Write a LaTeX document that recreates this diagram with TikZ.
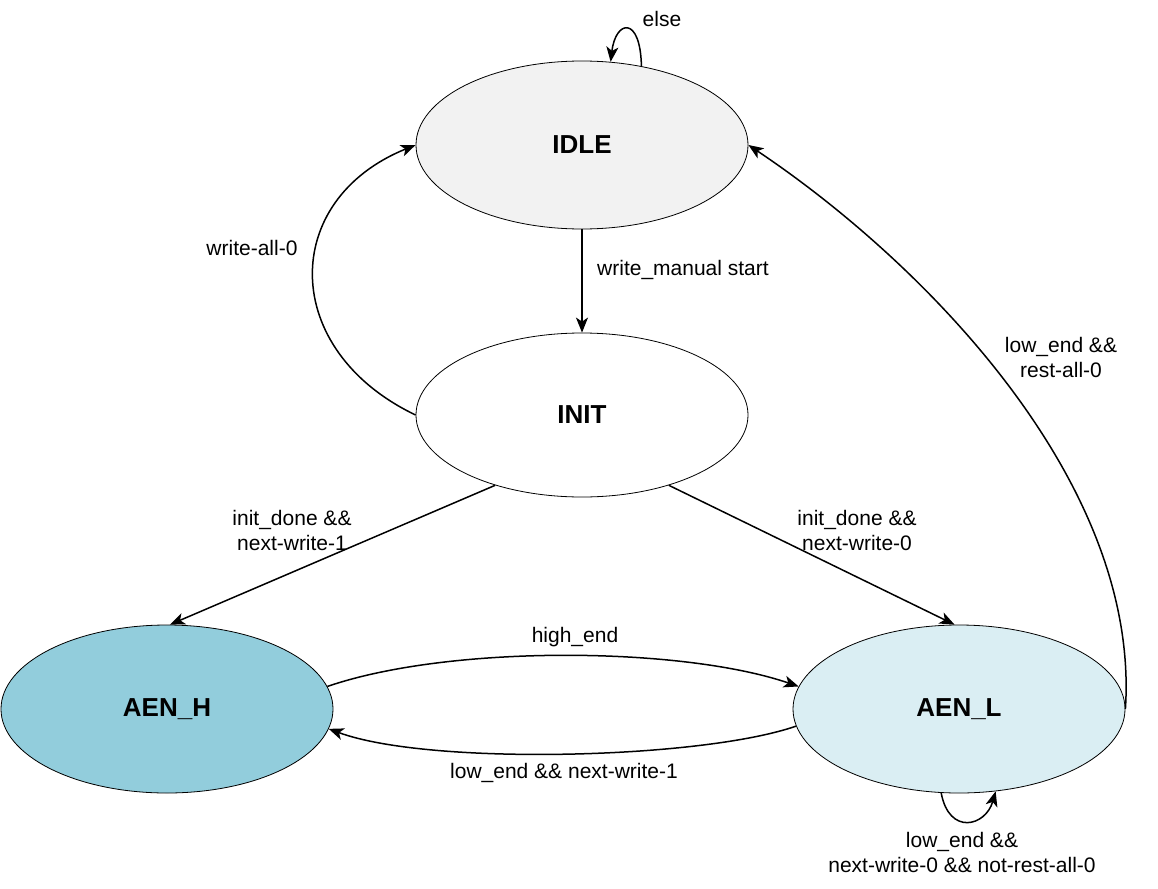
\documentclass[tikz,border=0pt]{standalone}
\usepackage{fontspec}
\setmainfont{Liberation Sans}
\usetikzlibrary{shapes.geometric,arrows.meta}
\definecolor{idlefill}{HTML}{F2F2F2}
\definecolor{aenhfill}{HTML}{92CDDC}
\definecolor{aenlfill}{HTML}{DAEEF3}
\begin{document}
\begin{tikzpicture}[x=1pt,y=-1pt,
  state/.style={ellipse,draw=black,line width=0.8pt,minimum width=332pt,minimum height=168pt,inner sep=0pt,
    font=\fontsize{26}{30}\selectfont\bfseries},
  edge/.style={line width=1.5pt,-{Stealth[length=15pt,width=12pt,inset=4pt]}},
  lbl/.style={font=\fontsize{21}{25}\selectfont,align=center,inner sep=0pt}]
\useasboundingbox (0,0) rectangle (1158,888);
\node[state,fill=idlefill] (IDLE) at (582,145) {IDLE};
\node[state,fill=white,minimum height=164pt] (INIT) at (582,415) {INIT};
\node[state,fill=aenhfill] (AENH) at (167,709) {AEN\_H};
\node[state,fill=aenlfill] (AENL) at (959,709) {AEN\_L};

\draw[edge] (IDLE.53) .. controls +(-1,-51) and +(5,-42) .. (IDLE.71);
\node[lbl] (lelse) at (662,19) {else};

\draw[edge] (IDLE.south) -- (INIT.north);
\node[lbl,anchor=west] (lwms) at (597,270) {write\_manual start};

\draw[edge] (INIT.west) .. controls +(-136,-65) and +(-136,55) .. (IDLE.west);
\node[lbl] (lwa) at (252,248) {write-all-0};

\draw[edge] (INIT.219) -- (AENH.88);
\node[lbl] (lid1) at (292,530) {init\_done \&\&\\next-write-1};

\draw[edge] (INIT.321) -- (AENL.93);
\node[lbl] (lid0) at (857,530) {init\_done \&\&\\next-write-0};

\draw[edge] (AENH.8) .. controls +(122,-42) and +(-117,-40) .. (AENL.172);
\node[lbl] (lhe) at (575,637) {high\_end};

\draw[edge] (AENL.186) .. controls +(-95,33) and +(100,37) .. (AENH.353);
\node[lbl] (lle1) at (564,773) {low\_end \&\& next-write-1};

\draw[edge] (AENL.east) .. controls +(15,-229) and +(172,115) .. (IDLE.east);
\node[lbl] (lra) at (1061,357) {low\_end \&\&\\rest-all-0};

\draw[edge] (AENL.258) .. controls +(8,43) and +(-10,35) .. (AENL.294);
\node[lbl] (lnr) at (962,852) {low\_end \&\&\\next-write-0 \&\& not-rest-all-0};
\end{tikzpicture}
\end{document}
